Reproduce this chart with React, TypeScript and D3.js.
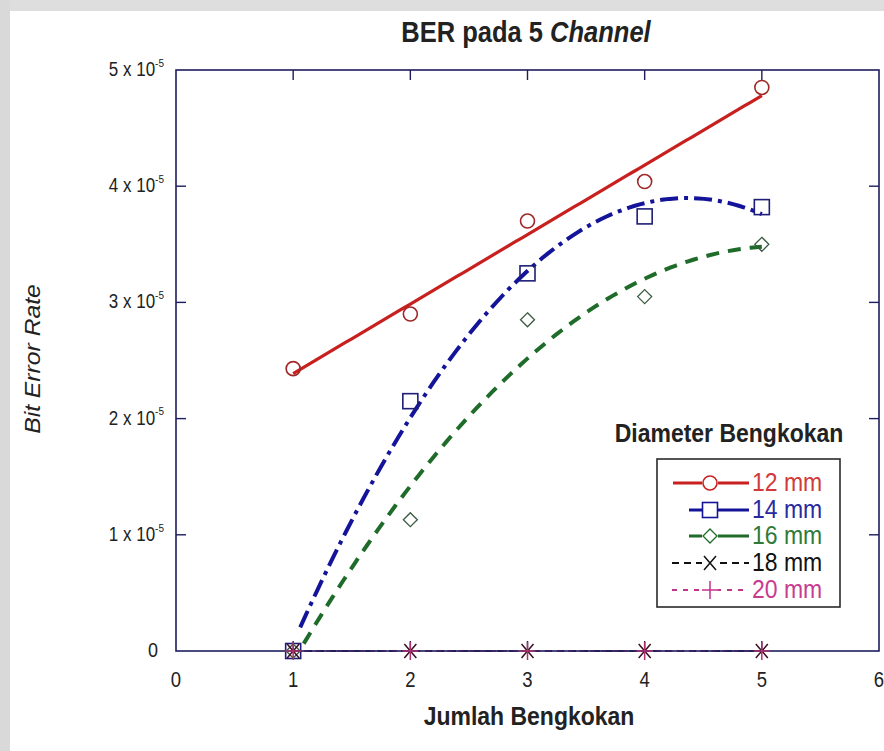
import React from 'react';
import * as d3 from 'd3';

// Jumlah bengkokan (number of bends) on the x axis
const jumlah = [1, 2, 3, 4, 5];
// BER values, in units of 1e-5
const ber12 = [2.43, 2.9, 3.7, 4.04, 4.85];
const ber14 = [0, 2.15, 3.25, 3.74, 3.82];
const ber16 = [0, 1.13, 2.85, 3.05, 3.5];
const ber18 = [0, 0, 0, 0, 0];
const ber20 = [0, 0, 0, 0, 0];

const xTicks = [0, 1, 2, 3, 4, 5, 6];
const yTicks = [0, 1, 2, 3, 4, 5];
const seriesNames = ['12 mm', '14 mm', '16 mm', '18 mm', '20 mm'];

const W = 884;
const H = 751;
const SY = 1.15; // vertical stretch applied to text
const FONT = "'Liberation Sans', Arial, Helvetica, sans-serif";

const x = d3.scaleLinear().domain([0, 6]).range([176, 879]);
const y = d3.scaleLinear().domain([0, 5]).range([651, 70]);

// least-squares polynomial fit, coefficients in ascending order
function polyfit(xs: number[], ys: number[], deg: number): number[] {
  const n = deg + 1;
  const A: number[][] = Array.from({ length: n }, () => new Array(n + 1).fill(0));
  for (let r = 0; r < n; r++) {
    for (let c = 0; c < n; c++) {
      A[r][c] = d3.sum(xs, (v) => Math.pow(v, r + c));
    }
    A[r][n] = d3.sum(xs, (v, i) => Math.pow(v, r) * ys[i]);
  }
  for (let i = 0; i < n; i++) {
    let p = i;
    for (let k = i + 1; k < n; k++) if (Math.abs(A[k][i]) > Math.abs(A[p][i])) p = k;
    [A[i], A[p]] = [A[p], A[i]];
    for (let k = 0; k < n; k++) {
      if (k === i) continue;
      const f = A[k][i] / A[i][i];
      for (let c = i; c <= n; c++) A[k][c] -= f * A[i][c];
    }
  }
  return A.map((row, i) => row[n] / A[i][i]);
}

function fitPath(ys: number[], deg: number, x0: number, x1: number): string {
  const coef = polyfit(jumlah, ys, deg);
  const xs = d3.range(0, 81).map((i) => x0 + ((x1 - x0) * i) / 80);
  const pts: [number, number][] = xs.map((v) => [v, coef.reduce((s, c, k) => s + c * Math.pow(v, k), 0)]);
  return d3.line<[number, number]>().x((d) => x(d[0])).y((d) => y(d[1]))(pts) || '';
}

type MarkerKind = 'circle' | 'square' | 'diamond' | 'x' | 'plus';

function Marker({ kind, cx, cy, color }: { kind: MarkerKind; cx: number; cy: number; color: string }) {
  if (kind === 'circle') return <circle cx={cx} cy={cy} r={7} fill="none" stroke={color} strokeWidth={1.6} />;
  if (kind === 'square') return <rect x={cx - 7.5} y={cy - 7.5} width={15} height={15} fill="none" stroke={color} strokeWidth={1.6} />;
  if (kind === 'diamond')
    return <path d={`M${cx},${cy - 7}L${cx + 7},${cy}L${cx},${cy + 7}L${cx - 7},${cy}Z`} fill="none" stroke={color} strokeWidth={1.3} />;
  if (kind === 'x')
    return <path d={`M${cx - 6},${cy - 7}L${cx + 6},${cy + 7}M${cx - 6},${cy + 7}L${cx + 6},${cy - 7}`} stroke={color} strokeWidth={1.5} />;
  return <path d={`M${cx - 8},${cy}L${cx + 8},${cy}M${cx},${cy - 9}L${cx},${cy + 9}`} stroke={color} strokeWidth={1.5} />;
}

interface Series {
  name: string;
  values: number[];
  color: string;
  markerColor: string;
  textColor: string;
  marker: MarkerKind;
  deg: number;
  start: number;
  width: number;
  dash: string | undefined;
  legendStart: number;
}

const series: Series[] = [
  { name: seriesNames[0], values: ber12, color: '#c8201e', markerColor: '#a02828', textColor: '#d03a3a', marker: 'circle', deg: 1, start: 1, width: 3.2, dash: undefined, legendStart: 673 },
  { name: seriesNames[1], values: ber14, color: '#14149a', markerColor: '#1e1e78', textColor: '#2a2aa0', marker: 'square', deg: 2, start: 1.06, width: 4, dash: '18 6 4 6', legendStart: 689 },
  { name: seriesNames[2], values: ber16, color: '#1f6b2a', markerColor: '#3c5a40', textColor: '#2f7a38', marker: 'diamond', deg: 2, start: 1.09, width: 4, dash: '13 9', legendStart: 689 },
  { name: seriesNames[3], values: ber18, color: '#111111', markerColor: '#3a0d22', textColor: '#111111', marker: 'x', deg: -1, start: 1, width: 2.2, dash: '7 5', legendStart: 672 },
  { name: seriesNames[4], values: ber20, color: '#c2338a', markerColor: '#b0306e', textColor: '#c83c90', marker: 'plus', deg: -1, start: 1, width: 2.2, dash: '5 6', legendStart: 672 },
];

function SText(props: { x: number; y: number; size: number; anchor?: string; weight?: string; italic?: boolean; fill?: string; children: React.ReactNode }) {
  const { x: tx, y: ty, size, anchor = 'start', weight = 'normal', fill = '#222', children } = props;
  return (
    <text
      transform={`translate(${tx},${ty}) scale(1,${SY})`}
      fontSize={size}
      fontFamily={FONT}
      fontWeight={weight}
      fontStyle={props.italic ? 'italic' : 'normal'}
      textAnchor={anchor}
      fill={fill}
    >
      {children}
    </text>
  );
}

export default function App() {
  const legendRows = [483, 510, 536, 563, 590];
  return (
    <svg width={W} height={H} style={{ position: 'absolute', left: 0, top: 0, background: '#ffffff' }}>
      {/* page edges */}
      <rect x={0} y={0} width={W} height={11} fill="#dedede" />
      <rect x={0} y={0} width={10} height={H} fill="#d9d9d9" />

      {/* title */}
      <SText x={526} y={42} size={25.5} anchor="middle" weight="bold">
        BER pada 5 <tspan fontStyle="italic">Channel</tspan>
      </SText>

      {/* fitted curves */}
      {series.map((s) =>
        s.deg >= 0 ? (
          <path key={s.name} d={fitPath(s.values, s.deg, s.start, 5)} fill="none" stroke={s.color} strokeWidth={s.width} strokeDasharray={s.dash} strokeLinecap="butt" />
        ) : (
          <path
            key={s.name}
            d={d3.line<number>().x((_, i) => x(jumlah[i])).y((v) => y(v))(s.values) || ''}
            fill="none"
            stroke={s.color}
            strokeWidth={s.width}
            strokeDasharray={s.dash}
            opacity={0.85}
          />
        )
      )}

      {/* frame */}
      <rect x={x(0)} y={y(5)} width={x(6) - x(0)} height={y(0) - y(5)} fill="none" stroke="#1d1d5e" strokeWidth={1.6} />
      {xTicks.slice(1, -1).map((t) => (
        <g key={`xt${t}`} stroke="#1d1d5e" strokeWidth={1.4}>
          <line x1={x(t)} x2={x(t)} y1={y(5)} y2={y(5) + 10} />
          <line x1={x(t)} x2={x(t)} y1={y(0)} y2={y(0) - 10} />
        </g>
      ))}
      {yTicks.slice(1, -1).map((t) => (
        <g key={`yt${t}`} stroke="#1d1d5e" strokeWidth={1.4}>
          <line x1={x(0)} x2={x(0) + 10} y1={y(t)} y2={y(t)} />
          <line x1={x(6)} x2={x(6) - 10} y1={y(t)} y2={y(t)} />
        </g>
      ))}

      {/* markers */}
      {series.map((s) =>
        s.values.map((v, i) => <Marker key={`${s.name}-${i}`} kind={s.marker} cx={x(jumlah[i])} cy={y(v)} color={s.markerColor} />)
      )}

      {/* tick labels */}
      {xTicks.map((t) => (
        <SText key={`xl${t}`} x={x(t)} y={687} size={18.5} anchor="middle">
          {t}
        </SText>
      ))}
      {yTicks.map((t) =>
        t === 0 ? (
          <SText key="yl0" x={158} y={y(0) + 6} size={18} anchor="end">
            0
          </SText>
        ) : (
          <SText key={`yl${t}`} x={164} y={y(t) + 6} size={17} anchor="end">
            {`${t} x 10`}
            <tspan fontSize={10} dy={-8}>-5</tspan>
          </SText>
        )
      )}

      {/* axis labels */}
      <SText x={529} y={725} size={23} anchor="middle" weight="bold">
        Jumlah Bengkokan
      </SText>
      <text
        transform={`translate(40,359) rotate(-90) scale(${SY},1)`}
        fontSize={21.5}
        fontFamily={FONT}
        fontStyle="italic"
        textAnchor="middle"
        fill="#222"
      >
        Bit Error Rate
      </text>

      {/* legend */}
      <SText x={729} y={442} size={23} anchor="middle" weight="bold">
        Diameter Bengkokan
      </SText>
      <rect x={657} y={459} width={183} height={148} fill="#ffffff" stroke="#2a2a2a" strokeWidth={1.6} />
      {series.map((s, i) => (
        <g key={`lg${s.name}`}>
          <line x1={s.legendStart} x2={749} y1={legendRows[i]} y2={legendRows[i]} stroke={s.color} strokeWidth={s.deg >= 0 ? 3 : 2.2} strokeDasharray={s.deg >= 0 ? undefined : s.dash} />
          <rect x={702} y={legendRows[i] - 9} width={16} height={18} fill="#ffffff" />
          <Marker kind={s.marker} cx={710} cy={legendRows[i]} color={s.color} />
          <SText x={752} y={legendRows[i] + 8} size={23} fill={s.textColor}>
            {s.name}
          </SText>
        </g>
      ))}
    </svg>
  );
}
